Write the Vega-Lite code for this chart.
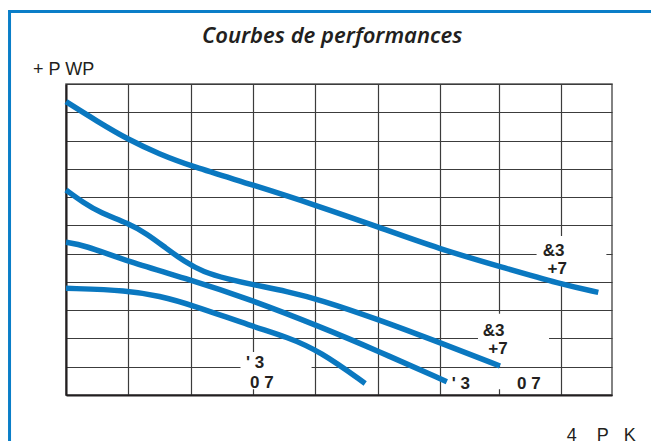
{
  "$schema": "https://vega.github.io/schema/vega-lite/v6.json",
  "width": 546,
  "height": 311,
  "autosize": "none",
  "padding": {"left": 66, "top": 84, "right": 39, "bottom": 46},
  "background": "white",
  "config": {
    "view": {"stroke": "#5a5a5a", "strokeWidth": 1.5},
    "axis": {"labelOverlap": false, "gridColor": "#3c3c3c", "gridWidth": 1.2, "gridOpacity": 1}
  },
  "datasets": {
    "frame": [{"x": -0.906, "x2": 12, "y": 13.56, "y2": -4}],
    "boxes": [
      {"x": 7.55, "x2": 8.67, "y": 5.62, "y2": 4.03},
      {"x": 6.61, "x2": 7.75, "y": 2.87, "y2": 1.03},
      {"x": 6.08, "x2": 7.68, "y": 0.955, "y2": 0.2},
      {"x": 2.8, "x2": 3.94, "y": 1.52, "y2": 0.2}
    ],
    "curves": [
      {"curve": "A", "q": 0, "h": 10.375},
      {"curve": "A", "q": 0.5, "h": 9.68},
      {"curve": "A", "q": 1.0, "h": 9.03},
      {"curve": "A", "q": 1.5, "h": 8.52},
      {"curve": "A", "q": 2.0, "h": 8.1},
      {"curve": "A", "q": 3.0, "h": 7.43},
      {"curve": "A", "q": 4.0, "h": 6.72},
      {"curve": "A", "q": 5.0, "h": 5.95},
      {"curve": "A", "q": 6.0, "h": 5.16},
      {"curve": "A", "q": 6.963, "h": 4.54},
      {"curve": "A", "q": 7.94, "h": 3.92},
      {"curve": "A", "q": 8.54, "h": 3.63},
      {"curve": "B", "q": 0, "h": 7.25},
      {"curve": "B", "q": 0.28, "h": 6.8},
      {"curve": "B", "q": 0.546, "h": 6.45},
      {"curve": "B", "q": 1.0, "h": 6.07},
      {"curve": "B", "q": 1.3, "h": 5.7},
      {"curve": "B", "q": 1.6, "h": 5.2},
      {"curve": "B", "q": 1.9, "h": 4.72},
      {"curve": "B", "q": 2.2, "h": 4.35},
      {"curve": "B", "q": 2.6, "h": 4.1},
      {"curve": "B", "q": 3.0, "h": 3.9},
      {"curve": "B", "q": 3.54, "h": 3.67},
      {"curve": "B", "q": 4.075, "h": 3.37},
      {"curve": "B", "q": 5.0, "h": 2.68},
      {"curve": "B", "q": 6.0, "h": 1.85},
      {"curve": "B", "q": 6.963, "h": 1.026},
      {"curve": "C", "q": 0, "h": 5.4},
      {"curve": "C", "q": 0.28, "h": 5.31},
      {"curve": "C", "q": 1.0, "h": 4.715},
      {"curve": "C", "q": 2.0, "h": 4.07},
      {"curve": "C", "q": 2.9, "h": 3.42},
      {"curve": "C", "q": 4.075, "h": 2.42},
      {"curve": "C", "q": 5.0, "h": 1.56},
      {"curve": "C", "q": 6.11, "h": 0.47},
      {"curve": "D", "q": 0, "h": 3.775},
      {"curve": "D", "q": 1.0, "h": 3.7},
      {"curve": "D", "q": 1.5, "h": 3.5},
      {"curve": "D", "q": 2.0, "h": 3.2},
      {"curve": "D", "q": 3.0, "h": 2.42},
      {"curve": "D", "q": 3.54, "h": 2.06},
      {"curve": "D", "q": 4.075, "h": 1.55},
      {"curve": "D", "q": 4.8, "h": 0.41}
    ],
    "labels": [
      {"x": 7.648, "y": 4.93, "label": "&3"},
      {"x": 7.725, "y": 4.28, "label": "+7"},
      {"x": 6.685, "y": 2.087, "label": "&3"},
      {"x": 6.775, "y": 1.45, "label": "+7"},
      {"x": 6.188, "y": 0.212, "label": "' 3"},
      {"x": 7.236, "y": 0.212, "label": "0 7"},
      {"x": 2.888, "y": 0.944, "label": "' 3"},
      {"x": 2.952, "y": 0.237, "label": "0 7"}
    ],
    "title": [{"x": 4.27, "y": 12.45, "label": "Courbes de performances"}],
    "axistitles": [
      {"x": -0.529, "y": 11.32, "label": "+ P WP"},
      {"x": 8.033, "y": -1.627, "label": "4\u00a0\u00a0\u00a0\u00a0P\u00a0\u00a0\u00a0K"}
    ]
  },
  "layer": [
    {
      "data": {"name": "frame"},
      "mark": {"type": "rect", "filled": false, "stroke": "#0a7ec8", "strokeWidth": 3, "clip": false},
      "encoding": {
        "x": {
          "field": "x", "type": "quantitative",
          "scale": {"domain": [0, 8.76], "nice": false, "zero": false},
          "axis": {
            "orient": "bottom", "values": [0, 1, 2, 3, 4, 5, 6, 6.955, 7.94],
            "grid": true, "labels": false, "ticks": false, "title": null,
            "domain": true, "domainColor": "#231f20", "domainWidth": 2
          }
        },
        "x2": {"field": "x2"},
        "y": {
          "field": "y", "type": "quantitative",
          "scale": {"domain": [0, 11], "nice": false, "zero": false},
          "axis": {
            "orient": "left", "tickCount": 11,
            "grid": true, "labels": false, "ticks": false, "title": null,
            "domain": true, "domainColor": "#231f20", "domainWidth": 2
          }
        },
        "y2": {"field": "y2"}
      }
    },
    {
      "data": {"name": "boxes"},
      "mark": {"type": "rect", "fill": "white", "strokeWidth": 0},
      "encoding": {
        "x": {"field": "x", "type": "quantitative"},
        "x2": {"field": "x2"},
        "y": {"field": "y", "type": "quantitative"},
        "y2": {"field": "y2"}
      }
    },
    {
      "data": {"name": "curves"},
      "mark": {"type": "line", "color": "#0a78c0", "strokeWidth": 5.5, "interpolate": "basis", "strokeCap": "butt"},
      "encoding": {
        "x": {"field": "q", "type": "quantitative"},
        "y": {"field": "h", "type": "quantitative"},
        "detail": {"field": "curve"}
      }
    },
    {
      "data": {"name": "labels"},
      "mark": {"type": "text", "align": "left", "baseline": "alphabetic", "font": "Liberation Sans", "fontWeight": "bold", "fontSize": 17, "color": "#231f20"},
      "encoding": {
        "x": {"field": "x", "type": "quantitative"},
        "y": {"field": "y", "type": "quantitative"},
        "text": {"field": "label"}
      }
    },
    {
      "data": {"name": "title"},
      "mark": {"type": "text", "align": "center", "baseline": "alphabetic", "font": "Noto Sans", "fontStyle": "italic", "fontWeight": 600, "fontSize": 22, "color": "#231f20", "clip": false},
      "encoding": {
        "x": {"field": "x", "type": "quantitative"},
        "y": {"field": "y", "type": "quantitative"},
        "text": {"field": "label"}
      }
    },
    {
      "data": {"name": "axistitles"},
      "mark": {"type": "text", "align": "left", "baseline": "alphabetic", "font": "Liberation Sans", "fontSize": 18, "color": "#231f20", "clip": false},
      "encoding": {
        "x": {"field": "x", "type": "quantitative"},
        "y": {"field": "y", "type": "quantitative"},
        "text": {"field": "label"}
      }
    }
  ]
}
